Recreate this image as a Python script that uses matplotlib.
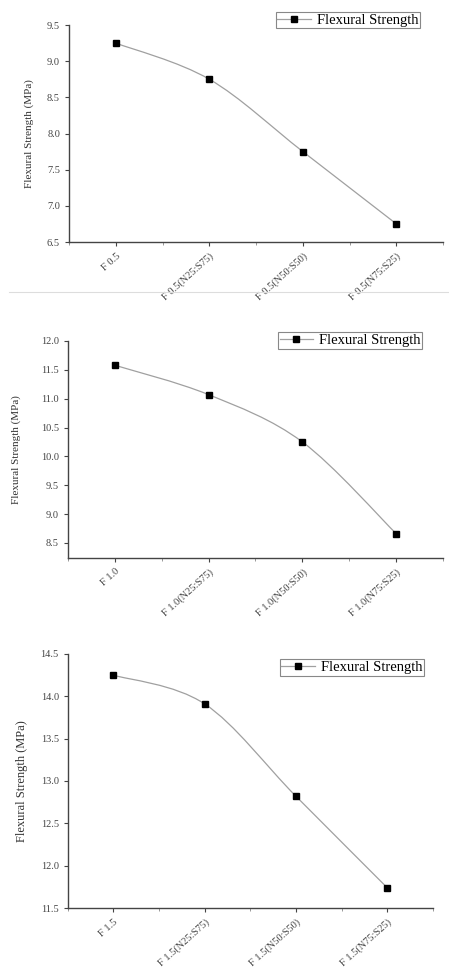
import numpy as np
import matplotlib
matplotlib.use("Agg")
import matplotlib.pyplot as plt
from matplotlib.path import Path
from matplotlib.patches import PathPatch
from matplotlib.lines import Line2D

plt.rcParams['font.family'] = ['Liberation Serif', 'DejaVu Serif']

# data
labels_05 = ['F 0.5', 'F 0.5(N25:S75)', 'F 0.5(N50:S50)', 'F 0.5(N75:S25)']
labels_10 = ['F 1.0', 'F 1.0(N25:S75)', 'F 1.0(N50:S50)', 'F 1.0(N75:S25)']
labels_15 = ['F 1.5', 'F 1.5(N25:S75)', 'F 1.5(N50:S50)', 'F 1.5(N75:S25)']
strength_05 = [9.25, 8.75, 7.75, 6.75]
strength_10 = [11.58, 11.07, 10.25, 8.66]
strength_15 = [14.25, 13.91, 12.82, 11.74]

yticks_05 = [6.5, 7.0, 7.5, 8.0, 8.5, 9.0, 9.5]
yticks_10 = [8.5, 9.0, 9.5, 10.0, 10.5, 11.0, 11.5, 12.0]
yticks_15 = [11.5, 12.0, 12.5, 13.0, 13.5, 14.0, 14.5]

# rect, labels, values, yticks, ylim, legend centre, ylabel x (axes coords), ylabel size
panels = [
    ([0.154, 0.7497, 0.833, 0.2244], labels_05, strength_05, yticks_05, (6.5, 9.5), (0.745, 1.023), -0.095, 8),
    ([0.151, 0.4230, 0.836, 0.2244], labels_10, strength_10, yticks_10, (8.24, 12.0), (0.752, 1.002), -0.125, 8),
    ([0.151, 0.0610, 0.813, 0.2627], labels_15, strength_15, yticks_15, (11.5, 14.5), (0.778, 0.947), -0.11, 9),
]


def smooth_path(x, y):
    # cubic bezier segments through the points (catmull-rom style tangents)
    x = np.asarray(x, float)
    y = np.asarray(y, float)
    n = len(x)
    verts = [(x[0], y[0])]
    codes = [Path.MOVETO]
    for i in range(n - 1):
        p0 = np.array([x[max(i - 1, 0)], y[max(i - 1, 0)]])
        p1 = np.array([x[i], y[i]])
        p2 = np.array([x[i + 1], y[i + 1]])
        p3 = np.array([x[min(i + 2, n - 1)], y[min(i + 2, n - 1)]])
        c1 = p1 + (p2 - p0) / 6.0
        c2 = p2 - (p3 - p1) / 6.0
        verts += [tuple(c1), tuple(c2), tuple(p2)]
        codes += [Path.CURVE4] * 3
    return Path(verts, codes)


fig = plt.figure(figsize=(4.49, 9.67), dpi=100)

for rect, labels, vals, yt, ylim, leg_pos, ylab_x, ylab_fs in panels:
    ax = fig.add_axes(rect)
    xs = np.arange(len(vals))
    ax.add_patch(PathPatch(smooth_path(xs, vals), facecolor='none',
                           edgecolor='#a0a0a0', lw=0.9))
    ax.plot(xs, vals, ls='none', marker='s', ms=5, color='black',
            label='Flexural Strength')
    ax.set_xlim(-0.5, 3.5)
    ax.set_ylim(*ylim)
    ax.set_xticks(xs)
    ax.set_xticks(np.arange(-0.5, 3.6, 0.5), minor=True)
    ax.set_xticklabels(labels, rotation=42, ha='right', rotation_mode='anchor',
                       fontsize=7.5, color='#444444')
    ax.set_yticks(yt)
    ax.set_yticklabels(['%.1f' % v for v in yt], fontsize=7.5, color='#444444')
    ax.set_ylabel('Flexural Strength (MPa)', fontsize=ylab_fs, color='#333333')
    ax.yaxis.set_label_coords(ylab_x, 0.5)
    for s in ['top', 'right']:
        ax.spines[s].set_visible(False)
    for s in ['left', 'bottom']:
        ax.spines[s].set_color('#444444')
        ax.spines[s].set_linewidth(1.0)
    ax.tick_params(axis='both', which='major', length=3, color='#444444')
    ax.tick_params(axis='x', which='minor', length=2, color='#888888')
    handle = Line2D([], [], color='#a0a0a0', lw=0.9, marker='s', ms=4.5,
                    mfc='black', mec='black')
    leg = ax.legend([handle], ['Flexural Strength'], loc='center',
                    bbox_to_anchor=leg_pos, fontsize=10.5, fancybox=False,
                    edgecolor='#888888', borderpad=0.1, handlelength=2.3,
                    handletextpad=0.4, borderaxespad=0, framealpha=1)
    leg.get_frame().set_linewidth(0.8)

# faint separator below the first panel
fig.add_artist(Line2D([0.02, 1.0], [1 - 292 / 967, 1 - 292 / 967],
                      color='#dddddd', lw=0.8))

fig.savefig('out.png', dpi=100)
